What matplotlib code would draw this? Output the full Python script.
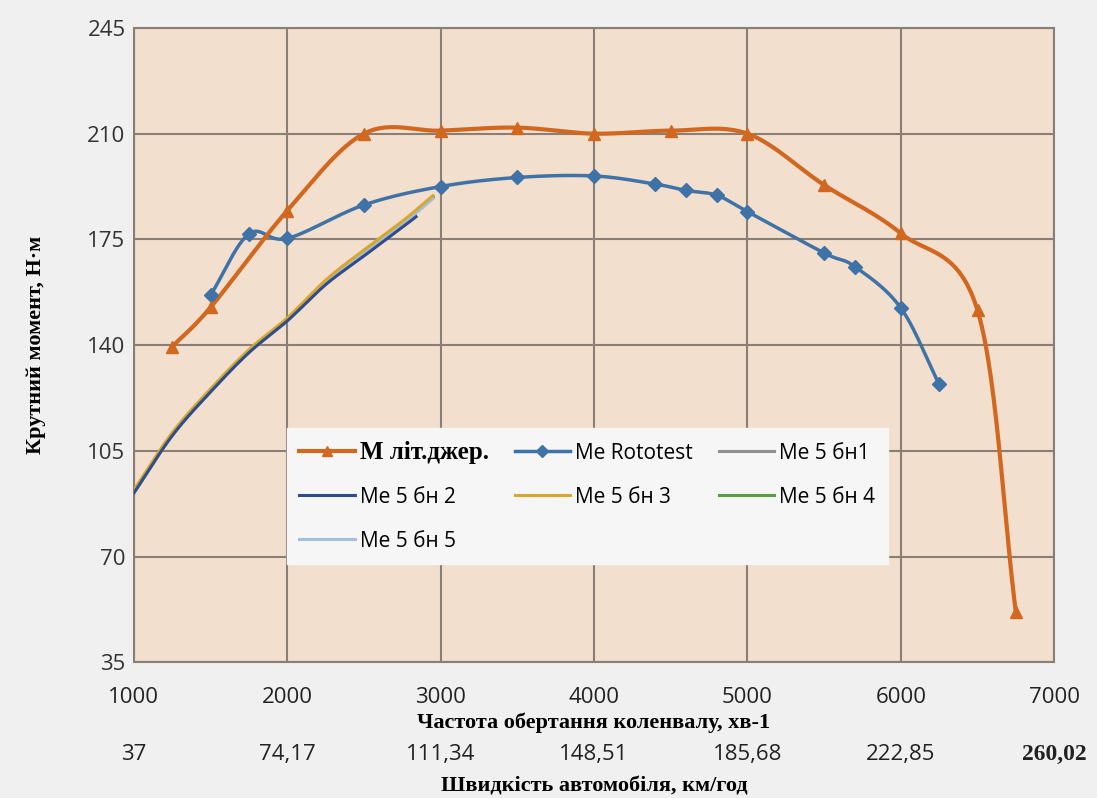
import numpy as np
import matplotlib.pyplot as plt

# --- data ---
rpm_lit = [1250, 1500, 2000, 2500, 3000, 3500, 4000, 4500, 5000, 5500, 6000, 6500, 6750]
m_lit = [139.5, 152.5, 184.5, 210, 211, 212, 210, 211, 210, 193, 177, 151.5, 51.5]

rpm_roto = [1500, 1750, 2000, 2500, 3000, 3500, 4000, 4400, 4600, 4800, 5000, 5500, 5700, 6000, 6250]
m_roto = [156.5, 176.8, 175.3, 186.4, 192.5, 195.5, 196, 193.3, 191.2, 189.6, 184.2, 170.5, 166, 152.3, 127]

rpm_bn = [1000, 1250, 1500, 1750, 2000, 2250, 2500, 2750, 2950]
m_bn1 = [91.5, 110.5, 125, 138, 148.5, 161, 171, 180.5, 189]
rpm_bn2 = [1000, 1250, 1500, 1750, 2000, 2250, 2500, 2750, 2840]
m_bn2 = [91, 110, 124.5, 137.5, 148, 160, 169.5, 179, 182.5]
m_bn3 = [92, 111, 125.5, 138.5, 149, 161.5, 171.5, 181, 189.5]
m_bn4 = [91.5, 110.5, 125, 138, 148.5, 161, 171, 180.5, 189]
m_bn5 = [91, 110, 124.5, 137.5, 148, 160.5, 170.5, 180, 188.5]

rpm_ticks = [1000, 2000, 3000, 4000, 5000, 6000, 7000]
speed_labels = ['37', '74,17', '111,34', '148,51', '185,68', '222,85', '260,02']
y_ticks = [35, 70, 105, 140, 175, 210, 245]


def smooth(x, y, n=30):
    # Excel-like smoothed line (Catmull-Rom through the points)
    p = np.column_stack([x, y]).astype(float)
    p = np.vstack([2 * p[0] - p[1], p, 2 * p[-1] - p[-2]])
    out = []
    t = np.linspace(0, 1, n)[:, None]
    for i in range(1, len(p) - 2):
        p0, p1, p2, p3 = p[i - 1], p[i], p[i + 1], p[i + 2]
        c1 = p1 + (p2 - p0) / 6
        c2 = p2 - (p3 - p1) / 6
        seg = ((1 - t) ** 3) * p1 + 3 * ((1 - t) ** 2) * t * c1 + 3 * (1 - t) * t ** 2 * c2 + t ** 3 * p2
        out.append(seg)
    s = np.vstack(out)
    return s[:, 0], s[:, 1]


fig = plt.figure(figsize=(10.97, 7.98), dpi=100, facecolor='#f0f0f0')
ax = fig.add_axes([0.122, 0.170, 0.839, 0.795])
ax.set_facecolor('#f2dfcd')

c_lit = '#d2671f'
c_roto = '#3f72a6'
bn_colors = ['#8f8f8f', '#2f4d8c', '#d6a82e', '#5d9b44', '#a3bfdc']

handles = {}
for name, xs, ys, col in [('Me 5 бн1', rpm_bn, m_bn1, bn_colors[0]),
                          ('Me 5 бн 4', rpm_bn, m_bn4, bn_colors[3]),
                          ('Me 5 бн 5', rpm_bn, m_bn5, bn_colors[4]),
                          ('Me 5 бн 3', rpm_bn, m_bn3, bn_colors[2]),
                          ('Me 5 бн 2', rpm_bn2, m_bn2, bn_colors[1])]:
    sx, sy = smooth(xs, ys)
    handles[name], = ax.plot(sx, sy, color=col, lw=2.2, label=name, zorder=3)

sx, sy = smooth(rpm_roto, m_roto)
ax.plot(sx, sy, color=c_roto, lw=2.5, zorder=4)
ax.plot(rpm_roto, m_roto, ls='none', marker='D', ms=7, color=c_roto, zorder=5)
handles['Me Rototest'], = ax.plot([], [], color=c_roto, lw=2.5, marker='D', ms=6, label='Me Rototest')

sx, sy = smooth(rpm_lit, m_lit)
ax.plot(sx, sy, color=c_lit, lw=3, zorder=4)
ax.plot(rpm_lit, m_lit, ls='none', marker='^', ms=8, color=c_lit, zorder=5)
handles['М літ.джер.'], = ax.plot([], [], color=c_lit, lw=3, marker='^', ms=7, label='М літ.джер.')

ax.set_xlim(1000, 7000)
ax.set_ylim(35, 245)
ax.set_xticks(rpm_ticks)
ax.set_yticks(y_ticks)
ax.grid(True, color='#8a7f76', lw=1.5)
ax.set_axisbelow(True)
for s in ax.spines.values():
    s.set_color('#8a7f76')
    s.set_linewidth(1.5)
ax.tick_params(length=0)
ax.tick_params(axis='x', pad=18, labelsize=16, labelcolor='#222222')
ax.tick_params(axis='y', pad=6, labelsize=16, labelcolor='#333333')
for lab in ax.get_xticklabels() + ax.get_yticklabels():
    lab.set_family('Open Sans')

ax.set_xlabel('Частота обертання коленвалу, хв-1', family='Liberation Serif',
              fontsize=16, fontweight='bold', labelpad=3)
ax.set_ylabel('Крутний момент, Н·м', family='Liberation Serif',
              fontsize=16, fontweight='bold', labelpad=30)

sec = ax.secondary_xaxis(-0.129)
sec.set_xticks(rpm_ticks, labels=speed_labels)
sec.tick_params(length=0, labelsize=16, pad=0, labelcolor='#222222')
for lab in sec.get_xticklabels():
    lab.set_family('Open Sans')
sec.get_xticklabels()[-1].set_family('Liberation Serif')
sec.get_xticklabels()[-1].set_fontweight('bold')
sec.get_xticklabels()[-1].set_fontsize(17)
sec.spines['bottom'].set_visible(False)
sec.set_xlabel('Швидкість автомобіля, км/год', family='Liberation Serif',
               fontsize=16, fontweight='bold', labelpad=8)

order = ['М літ.джер.', 'Me 5 бн 2', 'Me 5 бн 5', 'Me Rototest', 'Me 5 бн 3', 'Me 5 бн1', 'Me 5 бн 4']
leg = ax.legend([handles[k] for k in order], order, ncol=3, loc='upper left',
                bbox_to_anchor=(0.1663, 0.369), borderaxespad=0, frameon=True,
                fancybox=False, facecolor='#f6f6f6', edgecolor='#f6f6f6', framealpha=1,
                prop={'family': 'Open Sans', 'size': 15}, handlelength=2.65,
                handletextpad=0.25, columnspacing=1.25, labelspacing=1.1,
                borderpad=0.6)
leg.get_texts()[0].set_family('Liberation Serif')
leg.get_texts()[0].set_fontweight('bold')
leg.get_texts()[0].set_fontsize(18)
leg.set_zorder(6)

fig.savefig('out.png', dpi=100, facecolor=fig.get_facecolor())
